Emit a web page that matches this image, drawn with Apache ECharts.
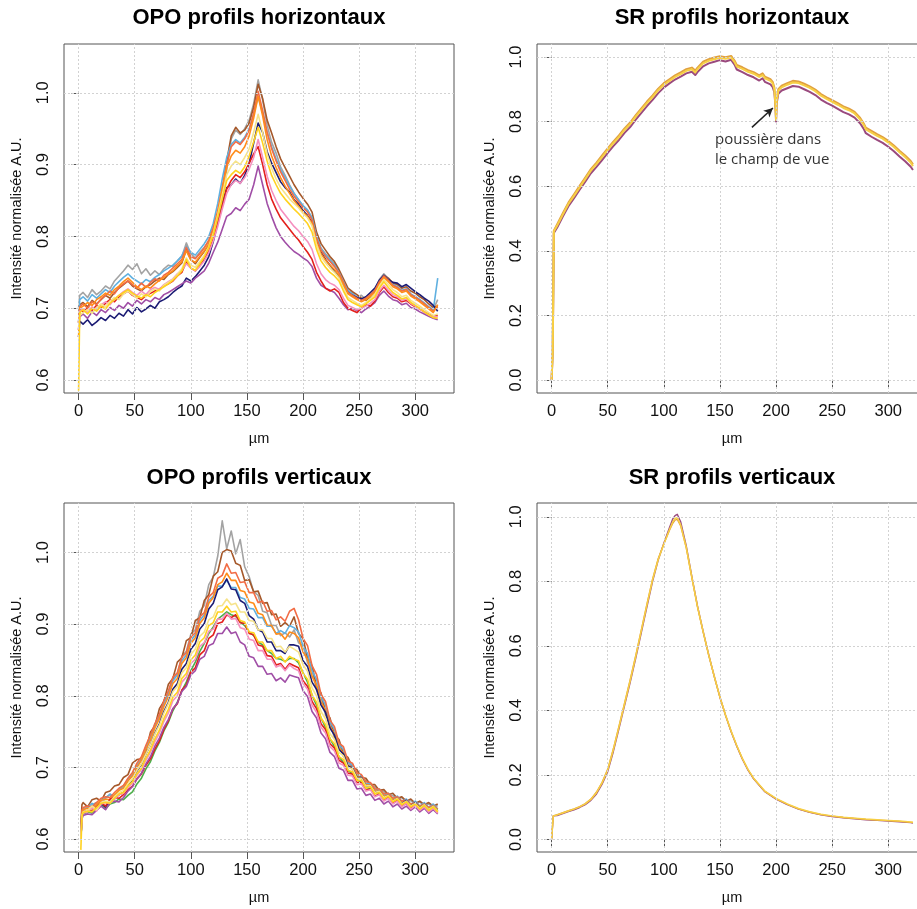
<!DOCTYPE html>
<html><head><meta charset="utf-8">
<script src="https://cdn.jsdelivr.net/npm/echarts@6/dist/echarts.min.js"></script>
<style>html,body{margin:0;padding:0;background:#fff}#c{width:917px;height:909px}</style>
</head><body><div id="c"></div>
<script>
// ---- tick labels ----
const xTicks = [0, 50, 100, 150, 200, 250, 300];
const yTicksOPO = [0.6, 0.7, 0.8, 0.9, 1.0];
const yTicksSR = [0.0, 0.2, 0.4, 0.6, 0.8, 1.0];
const titles = ['OPO profils horizontaux', 'SR profils horizontaux', 'OPO profils verticaux', 'SR profils verticaux'];
const xName = 'µm';
const yName = 'Intensité normalisée A.U.';
const note = 'poussière dans\nle champ de vue';

// ---- OPO horizontal profiles (µm positions) ----
const xsOPOH = [0,1,4,8,12,16,20,24,28,32,36,40,44,48,52,56,60,64,68,72,76,80,84,88,92,96,100,104,108,112,116,120,124,128,132,136,140,144,148,152,156,160,164,168,172,176,180,184,188,192,196,200,204,208,212,216,220,224,228,232,236,240,244,248,252,256,260,264,268,272,276,280,284,288,292,296,300,304,308,312,316,320];
const hGray = [0.70,0.718,
0.722,0.715,0.726,0.719,0.724,0.731,0.727,0.738,0.745,0.752,
0.760,0.754,0.762,0.748,0.755,0.746,0.752,0.747,0.755,0.760,
0.758,0.766,0.772,0.791,0.776,0.770,0.778,0.785,0.793,0.806,
0.825,0.852,0.893,0.936,0.948,0.942,0.950,0.962,0.985,1.018,
0.990,0.955,0.931,0.916,0.897,0.885,0.872,0.860,0.851,0.842,
0.836,0.826,0.800,0.784,0.776,0.769,0.762,0.752,0.738,0.725,
0.721,0.716,0.718,0.712,0.720,0.726,0.740,0.748,0.741,0.733,
0.730,0.724,0.726,0.719,0.716,0.712,0.707,0.702,0.698,0.712];
const hBrown = [0.68,0.705,
0.708,0.702,0.711,0.706,0.712,0.718,0.714,0.722,0.728,0.733,
0.738,0.731,0.727,0.724,0.730,0.733,0.738,0.742,0.740,0.747,
0.751,0.757,0.763,0.782,0.768,0.762,0.771,0.779,0.788,0.805,
0.828,0.862,0.905,0.940,0.952,0.944,0.948,0.958,0.980,1.012,
0.992,0.962,0.944,0.925,0.908,0.896,0.884,0.872,0.862,0.853,
0.845,0.834,0.806,0.790,0.781,0.772,0.765,0.754,0.741,0.728,
0.723,0.719,0.714,0.711,0.716,0.724,0.737,0.746,0.742,0.735,
0.733,0.728,0.730,0.724,0.721,0.716,0.712,0.706,0.701,0.703];
const hSky = [0.68,0.712,
0.716,0.710,0.719,0.714,0.720,0.726,0.722,0.731,0.737,0.743,
0.748,0.742,0.738,0.734,0.740,0.737,0.743,0.747,0.752,0.756,
0.760,0.766,0.773,0.786,0.778,0.774,0.782,0.790,0.800,0.818,
0.846,0.880,0.910,0.928,0.935,0.930,0.938,0.950,0.970,0.995,
0.972,0.945,0.925,0.908,0.893,0.882,0.870,0.860,0.851,0.843,
0.837,0.826,0.800,0.783,0.774,0.767,0.760,0.750,0.737,0.724,
0.720,0.715,0.712,0.715,0.720,0.726,0.738,0.746,0.740,0.733,
0.730,0.725,0.727,0.720,0.716,0.712,0.707,0.702,0.697,0.742];
const hNavy = [0.66,0.682,
0.678,0.684,0.676,0.681,0.687,0.683,0.690,0.686,0.693,0.689,
0.698,0.692,0.701,0.695,0.699,0.704,0.700,0.709,0.712,0.716,
0.722,0.727,0.731,0.742,0.738,0.744,0.752,0.760,0.772,0.793,
0.818,0.846,0.868,0.872,0.880,0.874,0.885,0.902,0.930,0.958,
0.945,0.918,0.902,0.889,0.876,0.868,0.862,0.851,0.845,0.836,
0.829,0.820,0.795,0.778,0.768,0.760,0.752,0.744,0.732,0.722,
0.718,0.715,0.713,0.716,0.722,0.728,0.739,0.746,0.740,0.736,
0.735,0.730,0.733,0.728,0.723,0.719,0.714,0.710,0.704,0.696];
const hPurple = [0.67,0.688,
0.692,0.686,0.695,0.690,0.698,0.694,0.701,0.697,0.704,0.700,
0.708,0.703,0.711,0.706,0.712,0.709,0.715,0.712,0.719,0.722,
0.726,0.730,0.734,0.738,0.735,0.742,0.747,0.752,0.763,0.778,
0.792,0.810,0.828,0.832,0.840,0.836,0.845,0.852,0.872,0.898,
0.872,0.846,0.828,0.812,0.800,0.792,0.785,0.779,0.775,0.770,
0.766,0.758,0.742,0.732,0.728,0.725,0.722,0.714,0.705,0.698,
0.700,0.697,0.694,0.699,0.703,0.708,0.718,0.724,0.717,0.712,
0.710,0.705,0.707,0.701,0.699,0.695,0.692,0.689,0.686,0.684];
const hRed = [0.68,0.698,
0.695,0.701,0.697,0.704,0.700,0.707,0.712,0.709,0.716,0.720,
0.724,0.718,0.715,0.712,0.718,0.721,0.724,0.727,0.731,0.734,
0.738,0.745,0.750,0.765,0.756,0.752,0.760,0.769,0.780,0.797,
0.818,0.842,0.866,0.878,0.886,0.882,0.890,0.902,0.915,0.925,
0.900,0.872,0.852,0.838,0.826,0.818,0.810,0.802,0.795,0.786,
0.778,0.768,0.750,0.738,0.728,0.724,0.727,0.722,0.708,0.700,
0.697,0.694,0.700,0.705,0.703,0.710,0.722,0.730,0.722,0.716,
0.714,0.709,0.711,0.706,0.702,0.699,0.695,0.692,0.689,0.690];
const hCoral = [0.67,0.702,
0.706,0.700,0.709,0.705,0.713,0.718,0.724,0.720,0.729,0.734,
0.738,0.733,0.728,0.735,0.729,0.736,0.741,0.738,0.746,0.750,
0.756,0.762,0.768,0.785,0.772,0.769,0.776,0.784,0.795,0.812,
0.836,0.868,0.900,0.925,0.932,0.928,0.936,0.948,0.972,1.002,
0.975,0.945,0.922,0.905,0.890,0.878,0.866,0.856,0.848,0.840,
0.834,0.823,0.797,0.781,0.772,0.765,0.758,0.749,0.736,0.722,
0.718,0.714,0.711,0.714,0.719,0.725,0.737,0.745,0.739,0.732,
0.729,0.724,0.726,0.719,0.715,0.711,0.706,0.701,0.696,0.702];
const hOrange = [0.66,0.70,
0.703,0.708,0.704,0.712,0.716,0.721,0.718,0.726,0.731,0.737,
0.742,0.736,0.730,0.726,0.731,0.728,0.734,0.739,0.743,0.748,
0.752,0.759,0.765,0.780,0.767,0.764,0.772,0.780,0.790,0.808,
0.832,0.866,0.896,0.912,0.920,0.916,0.925,0.940,0.965,0.995,
0.968,0.935,0.912,0.896,0.882,0.870,0.860,0.850,0.842,0.834,
0.828,0.818,0.792,0.776,0.767,0.760,0.754,0.746,0.733,0.720,
0.716,0.712,0.709,0.712,0.717,0.722,0.734,0.743,0.737,0.730,
0.727,0.722,0.724,0.717,0.713,0.709,0.704,0.699,0.694,0.705];
const hPink = [0.67,0.696,
0.699,0.694,0.702,0.697,0.705,0.709,0.705,0.713,0.718,0.723,
0.727,0.722,0.718,0.724,0.719,0.726,0.729,0.726,0.733,0.737,
0.741,0.748,0.753,0.762,0.756,0.752,0.758,0.766,0.777,0.794,
0.814,0.838,0.860,0.872,0.878,0.874,0.882,0.894,0.910,0.935,
0.910,0.884,0.864,0.850,0.838,0.830,0.822,0.814,0.808,0.800,
0.793,0.782,0.762,0.748,0.740,0.735,0.732,0.726,0.714,0.704,
0.701,0.698,0.700,0.703,0.707,0.712,0.724,0.732,0.725,0.719,
0.716,0.711,0.713,0.707,0.703,0.699,0.695,0.691,0.688,0.688];
const hLightYellow = [0.67,0.690,
0.694,0.698,0.693,0.701,0.706,0.702,0.710,0.715,0.712,0.720,
0.724,0.719,0.714,0.720,0.716,0.723,0.727,0.724,0.732,0.736,
0.740,0.747,0.755,0.770,0.760,0.757,0.765,0.774,0.786,0.804,
0.830,0.858,0.886,0.898,0.905,0.900,0.910,0.922,0.945,0.970,
0.945,0.915,0.895,0.880,0.868,0.860,0.852,0.846,0.840,0.832,
0.826,0.815,0.789,0.772,0.763,0.756,0.750,0.742,0.728,0.715,
0.711,0.707,0.704,0.708,0.713,0.719,0.731,0.740,0.733,0.726,
0.722,0.716,0.718,0.711,0.707,0.703,0.698,0.694,0.690,0.692];
const hGold = [0.585,0.694,
0.698,0.692,0.700,0.696,0.703,0.699,0.707,0.712,0.718,0.722,
0.726,0.721,0.717,0.714,0.719,0.716,0.722,0.726,0.730,0.734,
0.739,0.745,0.752,0.768,0.756,0.753,0.762,0.771,0.784,0.802,
0.826,0.852,0.878,0.886,0.892,0.888,0.897,0.912,0.932,0.952,
0.930,0.905,0.885,0.872,0.860,0.852,0.845,0.838,0.832,0.825,
0.818,0.806,0.782,0.766,0.757,0.750,0.745,0.738,0.724,0.712,
0.708,0.705,0.702,0.706,0.711,0.716,0.728,0.737,0.729,0.722,
0.718,0.713,0.715,0.708,0.704,0.700,0.695,0.691,0.687,0.686];

// ---- OPO vertical profiles ----
const xsOPOV = [2,3,4,8,12,16,20,24,28,32,36,40,44,48,52,56,60,64,68,72,76,80,84,88,92,96,100,104,108,112,116,120,124,128,132,136,140,144,148,152,156,160,164,168,172,176,180,184,188,192,196,200,204,208,212,216,220,224,228,232,236,240,244,248,252,256,260,264,268,272,276,280,284,288,292,296,300,304,308,312,316,320];
const vGray = [0.61,0.640,
0.642,0.636,0.648,0.651,0.646,0.658,0.662,0.657,0.669,0.674,
0.683,0.690,0.703,0.711,0.729,0.740,0.761,0.768,0.793,0.803,
0.824,0.830,0.855,0.862,0.886,0.892,0.918,0.926,0.955,0.966,
0.995,1.044,1.005,1.030,0.998,1.018,0.980,0.966,0.945,0.940,
0.918,0.916,0.898,0.898,0.884,0.888,0.882,0.892,0.874,0.870,
0.846,0.836,0.808,0.798,0.773,0.764,0.740,0.733,0.715,0.709,
0.697,0.694,0.684,0.682,0.674,0.673,0.666,0.666,0.660,0.661,
0.655,0.658,0.651,0.654,0.648,0.652,0.646,0.649,0.644,0.647];
const vBrown = [0.62,0.648,
0.651,0.645,0.655,0.657,0.653,0.665,0.667,0.674,0.676,0.686,
0.690,0.706,0.711,0.712,0.724,0.749,0.758,0.782,0.792,0.816,
0.824,0.847,0.853,0.877,0.881,0.905,0.909,0.933,0.941,0.967,
0.973,1.000,1.004,1.002,0.985,0.982,0.961,0.962,0.945,0.946,
0.929,0.930,0.913,0.914,0.897,0.902,0.897,0.910,0.887,0.880,
0.853,0.842,0.813,0.804,0.778,0.769,0.745,0.739,0.719,0.714,
0.700,0.697,0.686,0.685,0.676,0.676,0.668,0.669,0.662,0.664,
0.657,0.659,0.653,0.656,0.650,0.653,0.648,0.651,0.646,0.649];
const vSky = [0.61,0.638,
0.642,0.644,0.650,0.645,0.655,0.657,0.663,0.659,0.669,0.672,
0.682,0.689,0.702,0.712,0.728,0.741,0.758,0.771,0.789,0.803,
0.821,0.829,0.849,0.857,0.877,0.885,0.905,0.913,0.933,0.939,
0.953,0.953,0.961,0.951,0.951,0.937,0.935,0.922,0.921,0.909,
0.909,0.897,0.897,0.887,0.891,0.887,0.898,0.895,0.889,0.869,
0.859,0.835,0.823,0.799,0.787,0.764,0.753,0.732,0.725,0.707,
0.703,0.689,0.689,0.677,0.678,0.668,0.670,0.661,0.664,0.656,
0.660,0.652,0.656,0.648,0.653,0.646,0.651,0.644,0.649,0.642];
const vCoral = [0.61,0.640,
0.644,0.646,0.645,0.651,0.657,0.659,0.658,0.665,0.671,0.675,
0.685,0.693,0.706,0.715,0.731,0.745,0.761,0.774,0.793,0.807,
0.826,0.832,0.854,0.860,0.882,0.888,0.910,0.916,0.938,0.944,
0.964,0.968,0.984,0.971,0.972,0.958,0.959,0.944,0.944,0.930,
0.932,0.918,0.919,0.906,0.910,0.904,0.918,0.922,0.906,0.880,
0.870,0.842,0.830,0.802,0.792,0.766,0.757,0.734,0.729,0.709,
0.706,0.692,0.690,0.680,0.679,0.670,0.670,0.663,0.664,0.657,
0.659,0.653,0.654,0.649,0.651,0.646,0.649,0.644,0.647,0.642];
const vOrange = [0.61,0.636,
0.641,0.643,0.642,0.648,0.654,0.656,0.655,0.662,0.668,0.671,
0.681,0.688,0.700,0.710,0.725,0.738,0.755,0.768,0.785,0.799,
0.817,0.824,0.845,0.853,0.873,0.881,0.901,0.909,0.929,0.937,
0.955,0.959,0.971,0.961,0.961,0.947,0.945,0.931,0.929,0.915,
0.913,0.899,0.898,0.886,0.887,0.879,0.889,0.887,0.881,0.861,
0.851,0.827,0.815,0.791,0.780,0.757,0.747,0.727,0.720,0.703,
0.699,0.688,0.686,0.676,0.675,0.667,0.667,0.660,0.661,0.655,
0.656,0.651,0.652,0.648,0.649,0.645,0.647,0.643,0.645,0.641];
const vNavy = [0.60,0.630,
0.635,0.638,0.637,0.643,0.649,0.644,0.654,0.656,0.662,0.665,
0.675,0.682,0.695,0.704,0.719,0.731,0.748,0.761,0.778,0.791,
0.809,0.817,0.837,0.845,0.865,0.873,0.893,0.901,0.921,0.929,
0.948,0.952,0.963,0.949,0.948,0.933,0.929,0.912,0.907,0.892,
0.889,0.875,0.875,0.863,0.863,0.859,0.871,0.871,0.869,0.849,
0.841,0.819,0.809,0.787,0.777,0.755,0.745,0.725,0.719,0.702,
0.699,0.686,0.686,0.674,0.675,0.665,0.667,0.658,0.661,0.653,
0.657,0.649,0.654,0.646,0.651,0.643,0.648,0.641,0.646,0.639];
const vGreen = [0.60,0.632,
0.636,0.638,0.637,0.641,0.647,0.642,0.649,0.651,0.656,0.655,
0.661,0.666,0.677,0.685,0.698,0.708,0.723,0.735,0.751,0.763,
0.779,0.791,0.807,0.819,0.835,0.847,0.862,0.873,0.887,0.896,
0.907,0.912,0.917,0.913,0.911,0.903,0.898,0.889,0.884,0.875,
0.871,0.863,0.859,0.852,0.851,0.848,0.852,0.852,0.846,0.832,
0.819,0.801,0.787,0.769,0.756,0.740,0.729,0.715,0.707,0.696,
0.691,0.683,0.679,0.672,0.670,0.664,0.663,0.658,0.657,0.653,
0.653,0.649,0.649,0.646,0.647,0.644,0.645,0.642,0.643,0.641];
const vRed = [0.60,0.634,
0.638,0.640,0.639,0.645,0.651,0.646,0.656,0.658,0.657,0.662,
0.669,0.674,0.684,0.691,0.703,0.712,0.726,0.737,0.753,0.765,
0.782,0.789,0.808,0.815,0.833,0.839,0.857,0.863,0.880,0.885,
0.901,0.903,0.913,0.909,0.913,0.902,0.901,0.887,0.885,0.871,
0.869,0.856,0.855,0.843,0.845,0.837,0.845,0.842,0.839,0.821,
0.813,0.792,0.782,0.761,0.753,0.733,0.727,0.710,0.706,0.692,
0.691,0.679,0.679,0.668,0.670,0.660,0.663,0.654,0.658,0.650,
0.654,0.646,0.650,0.643,0.648,0.640,0.645,0.638,0.643,0.637];
const vPurple = [0.60,0.628,
0.633,0.635,0.634,0.640,0.646,0.641,0.651,0.653,0.652,0.658,
0.667,0.673,0.684,0.692,0.705,0.715,0.730,0.741,0.756,0.767,
0.782,0.790,0.806,0.813,0.829,0.835,0.851,0.855,0.870,0.873,
0.887,0.887,0.896,0.887,0.889,0.875,0.871,0.855,0.853,0.841,
0.841,0.830,0.831,0.821,0.825,0.819,0.829,0.827,0.825,0.807,
0.799,0.778,0.769,0.748,0.740,0.721,0.715,0.699,0.696,0.682,
0.682,0.670,0.671,0.661,0.663,0.654,0.657,0.649,0.653,0.645,
0.649,0.642,0.646,0.640,0.645,0.638,0.643,0.636,0.641,0.635];
const vPink = [0.60,0.632,
0.636,0.638,0.644,0.639,0.649,0.651,0.650,0.656,0.662,0.664,
0.672,0.678,0.689,0.697,0.710,0.721,0.736,0.748,0.764,0.776,
0.793,0.800,0.819,0.826,0.845,0.851,0.869,0.874,0.890,0.893,
0.907,0.907,0.915,0.907,0.908,0.895,0.893,0.879,0.877,0.863,
0.863,0.851,0.851,0.840,0.843,0.835,0.843,0.838,0.835,0.817,
0.809,0.787,0.777,0.756,0.748,0.729,0.723,0.706,0.703,0.689,
0.688,0.676,0.677,0.667,0.669,0.659,0.662,0.653,0.657,0.649,
0.653,0.645,0.650,0.642,0.647,0.640,0.645,0.638,0.643,0.636];
const vLightYellow = [0.60,0.634,
0.638,0.640,0.646,0.641,0.651,0.653,0.652,0.659,0.665,0.668,
0.677,0.684,0.696,0.705,0.719,0.731,0.747,0.759,0.776,0.789,
0.806,0.813,0.832,0.839,0.858,0.865,0.883,0.889,0.906,0.910,
0.925,0.926,0.935,0.927,0.929,0.917,0.917,0.905,0.904,0.892,
0.892,0.880,0.880,0.868,0.869,0.861,0.869,0.865,0.861,0.843,
0.834,0.811,0.800,0.778,0.768,0.747,0.739,0.721,0.716,0.700,
0.698,0.685,0.685,0.674,0.675,0.665,0.667,0.658,0.661,0.653,
0.657,0.649,0.653,0.646,0.650,0.643,0.648,0.641,0.646,0.639];
const vGold = [0.585,0.632,
0.637,0.639,0.638,0.644,0.650,0.651,0.650,0.657,0.663,0.665,
0.674,0.680,0.691,0.699,0.713,0.724,0.740,0.752,0.768,0.781,
0.798,0.805,0.824,0.831,0.850,0.857,0.875,0.881,0.898,0.902,
0.917,0.917,0.925,0.917,0.918,0.905,0.903,0.889,0.888,0.875,
0.875,0.863,0.863,0.852,0.855,0.847,0.855,0.851,0.849,0.831,
0.823,0.801,0.791,0.769,0.760,0.740,0.733,0.715,0.711,0.696,
0.694,0.682,0.682,0.671,0.673,0.663,0.665,0.656,0.660,0.652,
0.656,0.648,0.652,0.645,0.649,0.642,0.647,0.640,0.645,0.638];

// ---- SR horizontal profiles ----
const xsSRH = [0,1,2,5,10,15,20,25,30,35,
40,45,50,55,60,65,70,75,80,85,
90,95,100,105,110,115,120,125,128,130,
135,140,145,150,155,160,163,165,170,175,
180,185,188,190,195,197,198.5,199.5,200,200.5,
202,205,210,215,220,225,230,235,240,245,
250,255,260,265,270,275,278,280,285,290,
295,300,305,310,315,320,322];
const srhPurple = [0.00,0.09,0.455,0.472,0.506,0.538,0.563,0.589,0.614,0.640,
0.660,0.681,0.703,0.724,0.743,0.765,0.783,0.806,0.827,0.848,
0.867,0.888,0.905,0.918,0.930,0.939,0.949,0.954,0.944,0.953,
0.971,0.980,0.985,0.990,0.986,0.991,0.976,0.961,0.953,0.944,
0.937,0.927,0.934,0.923,0.915,0.907,0.890,0.845,0.800,0.855,
0.886,0.896,0.903,0.910,0.908,0.900,0.892,0.882,0.868,0.858,
0.849,0.839,0.829,0.822,0.812,0.794,0.778,0.764,0.753,0.743,
0.734,0.722,0.708,0.692,0.677,0.660,0.650];
const srhOrange = [0.00,0.09,0.462,0.482,0.516,0.549,0.575,0.601,0.627,0.653,
0.673,0.695,0.717,0.738,0.757,0.779,0.797,0.820,0.841,0.862,
0.881,0.902,0.919,0.931,0.943,0.952,0.962,0.967,0.958,0.967,
0.985,0.993,0.998,1.002,0.999,1.003,0.989,0.975,0.968,0.959,
0.953,0.943,0.949,0.939,0.931,0.923,0.905,0.855,0.810,0.866,
0.900,0.911,0.919,0.926,0.924,0.917,0.909,0.899,0.885,0.875,
0.866,0.857,0.847,0.840,0.830,0.811,0.795,0.781,0.771,0.761,
0.752,0.740,0.726,0.710,0.695,0.678,0.668];
const srhYellow = [0.00,0.09,0.46,0.478,0.512,0.545,0.570,0.596,0.622,0.648,
0.668,0.690,0.712,0.733,0.752,0.774,0.792,0.815,0.836,0.857,
0.876,0.897,0.914,0.926,0.938,0.947,0.957,0.962,0.952,0.962,
0.980,0.988,0.993,0.997,0.994,0.998,0.984,0.970,0.963,0.954,
0.948,0.938,0.944,0.934,0.926,0.918,0.900,0.850,0.805,0.862,
0.895,0.906,0.914,0.921,0.919,0.912,0.904,0.894,0.880,0.870,
0.861,0.852,0.842,0.835,0.825,0.806,0.790,0.776,0.766,0.756,
0.747,0.735,0.721,0.705,0.690,0.673,0.662];
// annotation anchor (data space): arrow tail, arrow head, text top-left
const arrowFrom = [178.5, 0.782];
const arrowTo = [197.2, 0.842];
const noteAt = [145.6, 0.775];

// ---- SR vertical profiles ----
const xsSRV = [0,1.5,5,10,15,20,25,30,35,40,
45,50,55,60,65,70,75,80,85,90,
95,100,105,108,110,112,115,120,125,130,
135,140,145,150,155,160,165,170,175,180,
190,200,210,220,230,240,250,260,270,280,
290,300,310,320,322];
const srvPurple = [0.0,0.073,0.074,0.080,0.086,0.092,0.099,0.108,0.121,0.141,
0.171,0.210,0.272,0.343,0.415,0.486,0.562,0.642,0.722,0.800,
0.866,0.918,0.966,0.994,1.004,1.008,0.985,0.910,0.815,0.724,
0.646,0.573,0.505,0.441,0.385,0.334,0.289,0.249,0.215,0.188,
0.148,0.125,0.108,0.094,0.084,0.076,0.071,0.067,0.064,0.061,
0.059,0.057,0.055,0.052,0.051];
const srvOrange = [0.0,0.073,0.077,0.083,0.089,0.095,0.102,0.111,0.125,0.147,
0.177,0.218,0.281,0.351,0.423,0.495,0.571,0.651,0.731,0.808,
0.871,0.916,0.958,0.980,0.990,0.992,0.972,0.903,0.810,0.720,
0.643,0.570,0.503,0.440,0.384,0.334,0.290,0.250,0.216,0.189,
0.149,0.126,0.109,0.095,0.085,0.077,0.072,0.068,0.065,0.062,
0.060,0.058,0.056,0.053,0.052];
const srvYellow = [0.0,0.073,0.076,0.082,0.088,0.094,0.101,0.110,0.124,0.145,
0.175,0.215,0.278,0.348,0.420,0.492,0.568,0.648,0.728,0.805,
0.868,0.915,0.960,0.985,0.995,0.997,0.975,0.905,0.812,0.722,
0.645,0.572,0.505,0.442,0.386,0.336,0.291,0.251,0.217,0.190,
0.150,0.127,0.110,0.096,0.086,0.078,0.073,0.069,0.066,0.063,
0.061,0.059,0.057,0.054,0.053];

// ---- styling ----
const FONT = '"Liberation Sans", Arial, Helvetica, sans-serif';
const BOX = '#555';
const GRIDC = '#d2d2d2';
const OPO_W = 1.6;
const C = {gray:'#a3a3a3', brown:'#a5582a', sky:'#5fb0e0', navy:'#1c1c74', purple:'#a04ea6',
  red:'#e3201c', coral:'#f26c45', orange:'#ff8c1a', pink:'#f590bf', lightyellow:'#f6e38a',
  gold:'#ffd21f', green:'#4daf4a'};

const gridPos = [
  {left:64, top:44}, {left:537, top:44}, {left:64, top:503}, {left:537, top:503}
];
const yRange = [[0.582,1.068],[-0.04,1.04],[0.582,1.069],[-0.039,1.043]];
const yTicksOf = [yTicksOPO, yTicksSR, yTicksOPO, yTicksSR];

function pairs(xs, ys){ const n=Math.min(xs.length, ys.length); const d=[]; for(let i=0;i<n;i++) d.push([xs[i], ys[i]]); return d; }
function line(gi, xs, ys, color, w){
  return {type:'line', xAxisIndex:gi, yAxisIndex:gi, data:pairs(xs,ys), symbol:'none', showSymbol:false,
    lineStyle:{width:w||1, color:color, join:'round'}, itemStyle:{color:color}, silent:true, animation:false, z:3, clip:true};
}
function gridLines(gi){
  return {type:'line', xAxisIndex:gi, yAxisIndex:gi, data:[], silent:true, animation:false, z:1,
    markLine:{silent:true, symbol:['none','none'], label:{show:false}, animation:false,
      lineStyle:{color:GRIDC, type:[2,2], width:1},
      emphasis:{disabled:true},
      data:[...xTicks.map(v=>({xAxis:v})), ...yTicksOf[gi].map(v=>({yAxis:v}))]}};
}

const grids = gridPos.map(p=>({left:p.left, top:p.top, width:390, height:349, show:true,
  borderColor:BOX, borderWidth:1, backgroundColor:'transparent', containLabel:false, outerBoundsMode:'none'}));
const xAxes = gridPos.map((p,gi)=>({type:'value', gridIndex:gi, min:-13, max:334.5,
  axisLine:{show:false}, splitLine:{show:false},
  axisTick:{show:true, inside:false, length:7, customValues:xTicks, lineStyle:{color:BOX, width:1}},
  axisLabel:{show:true, customValues:xTicks, margin:10, fontSize:16.5, color:'#111', fontFamily:FONT,
    formatter:v=>String(Math.round(v))},
  name:xName, nameLocation:'middle', nameGap:38, nameTextStyle:{fontSize:14.5, color:'#111', fontFamily:FONT}}));
const yAxes = gridPos.map((p,gi)=>({type:'value', gridIndex:gi, min:yRange[gi][0], max:yRange[gi][1],
  axisLine:{show:false}, splitLine:{show:false},
  axisTick:{show:true, inside:false, length:7, customValues:yTicksOf[gi], lineStyle:{color:BOX, width:1}},
  axisLabel:{show:true, customValues:yTicksOf[gi], rotate:90, margin:12, fontSize:16.5, color:'#111', fontFamily:FONT,
    formatter:v=>Number(v).toFixed(1)},
  name:yName, nameLocation:'middle', nameGap:40, nameTextStyle:{fontSize:14.5, color:'#111', fontFamily:FONT}}));

const titleCenters = [259, 732, 259, 732];
const titleTops = [7, 7, 467, 467];
const titleOpts = titles.map((t,i)=>({text:t, left:titleCenters[i], top:titleTops[i], textAlign:'center', padding:0,
  textStyle:{fontSize:22, fontWeight:'bold', color:'#000', fontFamily:FONT}}));

const series = [];
for (let gi=0; gi<4; gi++) series.push(gridLines(gi));
// OPO horizontal
[[hGray,C.gray],[hBrown,C.brown],[hSky,C.sky],[hNavy,C.navy],[hPurple,C.purple],[hRed,C.red],
 [hCoral,C.coral],[hOrange,C.orange],[hPink,C.pink],[hLightYellow,C.lightyellow],[hGold,C.gold]]
 .forEach(([ys,c])=>series.push(line(0, xsOPOH, ys, c, OPO_W)));
// SR horizontal
series.push(line(1, xsSRH, srhPurple, '#9a4a7e', 2));
series.push(line(1, xsSRH, srhOrange, '#e0a040', 2));
const srhMain = line(1, xsSRH, srhYellow, '#f7cf45', 2);
srhMain.markLine = {silent:true, animation:false, symbol:['none','arrow'], symbolSize:[7,9], label:{show:false},
  lineStyle:{color:'#222', width:1.5, type:'solid'}, emphasis:{disabled:true},
  data:[[{coord:arrowFrom},{coord:arrowTo}]]};
srhMain.markPoint = {silent:true, animation:false, symbol:'rect', symbolSize:0,
  data:[{coord:noteAt, label:{show:true, position:[0,0], align:'left', verticalAlign:'top', formatter:note,
    fontSize:15, lineHeight:20, color:'#333', fontFamily:'"Open Sans", "Noto Sans", sans-serif'}}]};
series.push(srhMain);
// OPO vertical
[[vGray,C.gray],[vBrown,C.brown],[vSky,C.sky],[vCoral,C.coral],[vOrange,C.orange],[vNavy,C.navy],
 [vGreen,C.green],[vRed,C.red],[vPurple,C.purple],[vPink,C.pink],[vLightYellow,C.lightyellow],[vGold,C.gold]]
 .forEach(([ys,c])=>series.push(line(2, xsOPOV, ys, c, OPO_W)));
// SR vertical
series.push(line(3, xsSRV, srvPurple, '#9a4a7e', 1.4));
series.push(line(3, xsSRV, srvOrange, '#e0a040', 1.3));
series.push(line(3, xsSRV, srvYellow, '#f7cf45', 1.5));

const chart = echarts.init(document.getElementById('c'), null, {renderer:'canvas', width:917, height:909});
chart.setOption({backgroundColor:'#ffffff', animation:false, title:titleOpts, grid:grids, xAxis:xAxes, yAxis:yAxes, series:series});
</script></body></html>
